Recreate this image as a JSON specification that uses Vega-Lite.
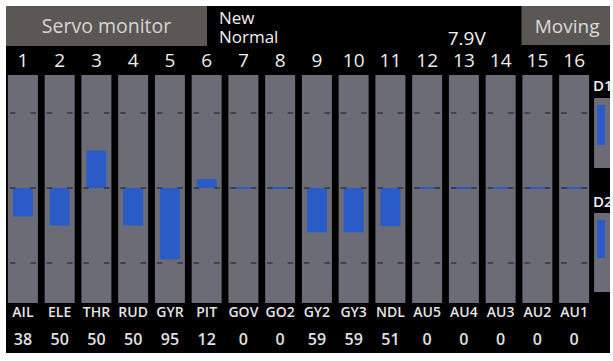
{
  "$schema": "https://vega.github.io/schema/vega-lite/v6.json",
  "width": 613,
  "height": 361,
  "autosize": {"type": "fit", "contains": "padding"},
  "padding": {"left": 6, "top": 6, "right": 0, "bottom": 8},
  "background": "white",
  "config": {"view": {"fill": "black", "stroke": null}, "font": "Open Sans", "scale": {"continuousPadding": 0}},
  "datasets": {
    "servo": [
      {"ch": 1, "label": "AIL", "value": -38, "rate": 38},
      {"ch": 2, "label": "ELE", "value": -50, "rate": 50},
      {"ch": 3, "label": "THR", "value": 50, "rate": 50},
      {"ch": 4, "label": "RUD", "value": -50, "rate": 50},
      {"ch": 5, "label": "GYR", "value": -95, "rate": 95},
      {"ch": 6, "label": "PIT", "value": 12, "rate": 12},
      {"ch": 7, "label": "GOV", "value": 0, "rate": 0},
      {"ch": 8, "label": "GO2", "value": 0, "rate": 0},
      {"ch": 9, "label": "GY2", "value": -59, "rate": 59},
      {"ch": 10, "label": "GY3", "value": -59, "rate": 59},
      {"ch": 11, "label": "NDL", "value": -51, "rate": 51},
      {"ch": 12, "label": "AU5", "value": 0, "rate": 0},
      {"ch": 13, "label": "AU4", "value": 0, "rate": 0},
      {"ch": 14, "label": "AU3", "value": 0, "rate": 0},
      {"ch": 15, "label": "AU2", "value": 0, "rate": 0},
      {"ch": 16, "label": "AU1", "value": 0, "rate": 0}
    ],
    "one": [{"v": 1}]
  },
  "layer": [
    {
      "data": {"name": "one"},
      "mark": {"type": "rect", "color": "#5a5754"},
      "encoding": {
        "x": {"datum": 0.5397, "scale": {"domain": [0.5397, 16.976], "nice": false, "zero": false, "padding": 0}, "axis": null},
        "x2": {"datum": 6.009},
        "y": {"datum": 242.67, "scale": {"domain": [-220, 242.67], "nice": false, "zero": false, "padding": 0}, "axis": null},
        "y2": {"datum": 189.33}
      }
    },
    {
      "data": {"name": "one"},
      "mark": {"type": "text", "fontSize": 19.5, "color": "#d6d6d6", "align": "center", "baseline": "middle"},
      "encoding": {
        "x": {"datum": 3.275, "scale": {"domain": [0.5397, 16.976], "nice": false, "zero": false, "padding": 0}, "axis": null},
        "y": {"datum": 215, "scale": {"domain": [-220, 242.67], "nice": false, "zero": false, "padding": 0}, "axis": null},
        "text": {"value": "Servo monitor"}
      }
    },
    {
      "data": {"name": "one"},
      "mark": {"type": "text", "fontSize": 17, "lineHeight": 19, "lineBreak": "\n", "color": "#f0f0f0", "align": "left", "baseline": "middle"},
      "encoding": {
        "x": {"datum": 6.334, "scale": {"domain": [0.5397, 16.976], "nice": false, "zero": false, "padding": 0}, "axis": null},
        "y": {"datum": 226, "scale": {"domain": [-220, 242.67], "nice": false, "zero": false, "padding": 0}, "axis": null},
        "text": {"value": "New\nNormal"}
      }
    },
    {
      "data": {"name": "one"},
      "mark": {"type": "text", "fontSize": 19, "color": "#f0f0f0", "align": "center", "baseline": "middle"},
      "encoding": {
        "x": {"datum": 13.077, "scale": {"domain": [0.5397, 16.976], "nice": false, "zero": false, "padding": 0}, "axis": null},
        "y": {"datum": 199, "scale": {"domain": [-220, 242.67], "nice": false, "zero": false, "padding": 0}, "axis": null},
        "text": {"value": "7.9V"}
      }
    },
    {
      "data": {"name": "one"},
      "mark": {"type": "rect", "color": "#5a5754"},
      "encoding": {
        "x": {"datum": 14.566, "scale": {"domain": [0.5397, 16.976], "nice": false, "zero": false, "padding": 0}, "axis": null},
        "x2": {"datum": 16.976},
        "y": {"datum": 242.67, "scale": {"domain": [-220, 242.67], "nice": false, "zero": false, "padding": 0}, "axis": null},
        "y2": {"datum": 190.67}
      }
    },
    {
      "data": {"name": "one"},
      "mark": {"type": "text", "fontSize": 19, "color": "#dcdcdc", "align": "center", "baseline": "middle"},
      "encoding": {
        "x": {"datum": 15.81, "scale": {"domain": [0.5397, 16.976], "nice": false, "zero": false, "padding": 0}, "axis": null},
        "y": {"datum": 215, "scale": {"domain": [-220, 242.67], "nice": false, "zero": false, "padding": 0}, "axis": null},
        "text": {"value": "Moving"}
      }
    },
    {
      "data": {"name": "servo"},
      "mark": {"type": "text", "fontSize": 19, "fontWeight": 500, "color": "#eeeeee", "align": "center", "baseline": "middle"},
      "encoding": {
        "x": {"field": "ch", "type": "quantitative", "scale": {"domain": [0.5397, 16.976], "nice": false, "zero": false, "padding": 0}, "axis": null},
        "y": {"datum": 169, "scale": {"domain": [-220, 242.67], "nice": false, "zero": false, "padding": 0}, "axis": null},
        "text": {"field": "ch", "type": "nominal"}
      }
    },
    {
      "data": {"name": "servo"},
      "mark": {"type": "bar", "width": 30, "color": "#6c6c76"},
      "encoding": {
        "x": {"field": "ch", "type": "quantitative", "scale": {"domain": [0.5397, 16.976], "nice": false, "zero": false, "padding": 0}, "axis": null},
        "y": {"datum": 150.67, "scale": {"domain": [-220, 242.67], "nice": false, "zero": false, "padding": 0}, "axis": null},
        "y2": {"datum": -153.33}
      }
    },
    {
      "data": {"name": "servo"},
      "mark": {"type": "bar", "width": 20, "color": "#2b5bc6"},
      "encoding": {
        "x": {"field": "ch", "type": "quantitative", "scale": {"domain": [0.5397, 16.976], "nice": false, "zero": false, "padding": 0}, "axis": null},
        "y": {"field": "value", "type": "quantitative", "scale": {"domain": [-220, 242.67], "nice": false, "zero": false, "padding": 0}, "axis": null},
        "y2": {"datum": 0}
      }
    },
    {
      "data": {"name": "servo"},
      "transform": [{"filter": "datum.value == 0"}],
      "mark": {"type": "rule", "strokeWidth": 2, "color": "#2b5bc6", "xOffset": -12, "x2Offset": 12},
      "encoding": {
        "x": {"field": "ch", "type": "quantitative", "scale": {"domain": [0.5397, 16.976], "nice": false, "zero": false, "padding": 0}, "axis": null},
        "x2": {"field": "ch"},
        "y": {"datum": 0, "scale": {"domain": [-220, 242.67], "nice": false, "zero": false, "padding": 0}, "axis": null}
      }
    },
    {
      "data": {"name": "servo"},
      "mark": {"type": "rule", "strokeWidth": 1.5, "color": "#34343a", "strokeDash": [5.5, 15], "xOffset": -13, "x2Offset": 13},
      "encoding": {
        "x": {"field": "ch", "type": "quantitative", "scale": {"domain": [0.5397, 16.976], "nice": false, "zero": false, "padding": 0}, "axis": null},
        "x2": {"field": "ch"},
        "y": {"datum": 100, "scale": {"domain": [-220, 242.67], "nice": false, "zero": false, "padding": 0}, "axis": null}
      }
    },
    {
      "data": {"name": "servo"},
      "mark": {"type": "rule", "strokeWidth": 1.5, "color": "#34343a", "strokeDash": [5.5, 15], "xOffset": -13, "x2Offset": 13},
      "encoding": {
        "x": {"field": "ch", "type": "quantitative", "scale": {"domain": [0.5397, 16.976], "nice": false, "zero": false, "padding": 0}, "axis": null},
        "x2": {"field": "ch"},
        "y": {"datum": 0, "scale": {"domain": [-220, 242.67], "nice": false, "zero": false, "padding": 0}, "axis": null}
      }
    },
    {
      "data": {"name": "servo"},
      "mark": {"type": "rule", "strokeWidth": 1.5, "color": "#34343a", "strokeDash": [5.5, 15], "xOffset": -13, "x2Offset": 13},
      "encoding": {
        "x": {"field": "ch", "type": "quantitative", "scale": {"domain": [0.5397, 16.976], "nice": false, "zero": false, "padding": 0}, "axis": null},
        "x2": {"field": "ch"},
        "y": {"datum": -100, "scale": {"domain": [-220, 242.67], "nice": false, "zero": false, "padding": 0}, "axis": null}
      }
    },
    {
      "data": {"name": "servo"},
      "mark": {"type": "text", "fontSize": 14, "fontWeight": 600, "color": "#e4e4e4", "align": "center", "baseline": "middle"},
      "encoding": {
        "x": {"field": "ch", "type": "quantitative", "scale": {"domain": [0.5397, 16.976], "nice": false, "zero": false, "padding": 0}, "axis": null},
        "y": {"datum": -166.67, "scale": {"domain": [-220, 242.67], "nice": false, "zero": false, "padding": 0}, "axis": null},
        "text": {"field": "label", "type": "nominal"}
      }
    },
    {
      "data": {"name": "servo"},
      "mark": {"type": "text", "fontSize": 16, "fontWeight": 600, "color": "#e0e0e0", "align": "center", "baseline": "middle"},
      "encoding": {
        "x": {"field": "ch", "type": "quantitative", "scale": {"domain": [0.5397, 16.976], "nice": false, "zero": false, "padding": 0}, "axis": null},
        "y": {"datum": -202.67, "scale": {"domain": [-220, 242.67], "nice": false, "zero": false, "padding": 0}, "axis": null},
        "text": {"field": "rate", "type": "nominal"}
      }
    },
    {
      "data": {"name": "one"},
      "mark": {"type": "text", "fontSize": 15, "fontWeight": 600, "color": "#eeeeee", "align": "left", "baseline": "middle"},
      "encoding": {
        "x": {"datum": 16.516, "scale": {"domain": [0.5397, 16.976], "nice": false, "zero": false, "padding": 0}, "axis": null},
        "y": {"datum": 136, "scale": {"domain": [-220, 242.67], "nice": false, "zero": false, "padding": 0}, "axis": null},
        "text": {"value": "D1"}
      }
    },
    {
      "data": {"name": "one"},
      "mark": {"type": "text", "fontSize": 15, "fontWeight": 600, "color": "#eeeeee", "align": "left", "baseline": "middle"},
      "encoding": {
        "x": {"datum": 16.516, "scale": {"domain": [0.5397, 16.976], "nice": false, "zero": false, "padding": 0}, "axis": null},
        "y": {"datum": -18.67, "scale": {"domain": [-220, 242.67], "nice": false, "zero": false, "padding": 0}, "axis": null},
        "text": {"value": "D2"}
      }
    },
    {
      "data": {"name": "one"},
      "mark": {"type": "rect", "color": "#6c6c76"},
      "encoding": {
        "x": {"datum": 16.543, "scale": {"domain": [0.5397, 16.976], "nice": false, "zero": false, "padding": 0}, "axis": null},
        "x2": {"datum": 16.976},
        "y": {"datum": 120, "scale": {"domain": [-220, 242.67], "nice": false, "zero": false, "padding": 0}, "axis": null},
        "y2": {"datum": 26.67}
      }
    },
    {
      "data": {"name": "one"},
      "mark": {"type": "rect", "color": "#6c6c76"},
      "encoding": {
        "x": {"datum": 16.543, "scale": {"domain": [0.5397, 16.976], "nice": false, "zero": false, "padding": 0}, "axis": null},
        "x2": {"datum": 16.976},
        "y": {"datum": -33.33, "scale": {"domain": [-220, 242.67], "nice": false, "zero": false, "padding": 0}, "axis": null},
        "y2": {"datum": -138.67}
      }
    },
    {
      "data": {"name": "one"},
      "mark": {"type": "rect", "color": "#2b5bc6"},
      "encoding": {
        "x": {"datum": 16.624, "scale": {"domain": [0.5397, 16.976], "nice": false, "zero": false, "padding": 0}, "axis": null},
        "x2": {"datum": 16.84},
        "y": {"datum": 110.67, "scale": {"domain": [-220, 242.67], "nice": false, "zero": false, "padding": 0}, "axis": null},
        "y2": {"datum": 57.33}
      }
    },
    {
      "data": {"name": "one"},
      "mark": {"type": "rect", "color": "#2b5bc6"},
      "encoding": {
        "x": {"datum": 16.624, "scale": {"domain": [0.5397, 16.976], "nice": false, "zero": false, "padding": 0}, "axis": null},
        "x2": {"datum": 16.84},
        "y": {"datum": -42.67, "scale": {"domain": [-220, 242.67], "nice": false, "zero": false, "padding": 0}, "axis": null},
        "y2": {"datum": -93.33}
      }
    }
  ]
}
